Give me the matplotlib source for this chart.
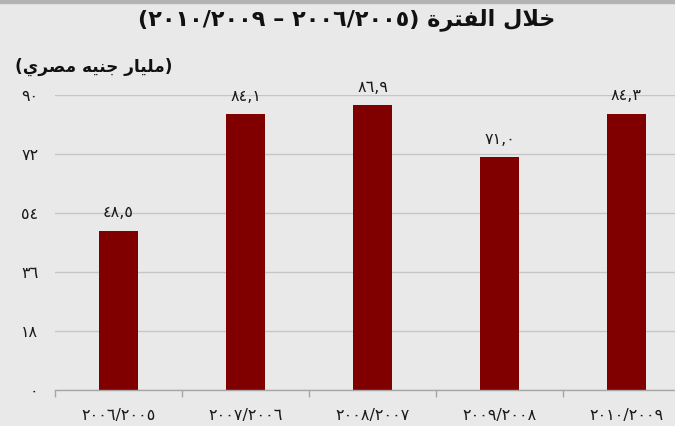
import re
import matplotlib
matplotlib.use("Agg")
import matplotlib.pyplot as plt
from matplotlib.ticker import FixedLocator, FuncFormatter

# data (periods in logical Arabic order)
periods = ["٢٠٠٥/٢٠٠٦", "٢٠٠٦/٢٠٠٧", "٢٠٠٧/٢٠٠٨", "٢٠٠٨/٢٠٠٩", "٢٠٠٩/٢٠١٠"]
values = [48.5, 84.1, 86.9, 71.0, 84.3]
yticks = [0, 18, 36, 54, 72, 90]

title = "خلال الفترة (٢٠٠٥/٢٠٠٦ – ٢٠٠٩/٢٠١٠)"
unit_label = "(مليار جنيه مصري)"

# matplotlib has no arabic shaping, so map letters to presentation forms by hand
FORMS = {
    "ا": (0xFE8D, 0xFE8E),
    "ب": (0xFE8F, 0xFE90, 0xFE91, 0xFE92),
    "ة": (0xFE93, 0xFE94),
    "ت": (0xFE95, 0xFE96, 0xFE97, 0xFE98),
    "ج": (0xFE9D, 0xFE9E, 0xFE9F, 0xFEA0),
    "خ": (0xFEA5, 0xFEA6, 0xFEA7, 0xFEA8),
    "ر": (0xFEAD, 0xFEAE),
    "ص": (0xFEB9, 0xFEBA, 0xFEBB, 0xFEBC),
    "ف": (0xFED1, 0xFED2, 0xFED3, 0xFED4),
    "ل": (0xFEDD, 0xFEDE, 0xFEDF, 0xFEE0),
    "م": (0xFEE1, 0xFEE2, 0xFEE3, 0xFEE4),
    "ن": (0xFEE5, 0xFEE6, 0xFEE7, 0xFEE8),
    "ه": (0xFEE9, 0xFEEA, 0xFEEB, 0xFEEC),
    "ي": (0xFEF1, 0xFEF2, 0xFEF3, 0xFEF4),
    "لا": (0xFEFB, 0xFEFC),
}


def shape_word(w):
    toks = []
    i = 0
    while i < len(w):
        if w[i] == "ل" and i + 1 < len(w) and w[i + 1] == "ا":
            toks.append("لا")
            i += 2
        else:
            toks.append(w[i])
            i += 1
    out = []
    for k, t in enumerate(toks):
        f = FORMS[t]
        prev = k > 0 and len(FORMS[toks[k - 1]]) == 4
        nxt = k < len(toks) - 1 and len(f) == 4
        if prev and nxt:
            c = f[3]
        elif prev:
            c = f[1]
        elif nxt:
            c = f[2]
        else:
            c = f[0]
        out.append(chr(c))
    return "".join(out)


def rtl(text):
    # reverse to visual order, keep digit runs left-to-right
    tokens = re.findall(r"[\u0621-\u064A]+|[\u0660-\u0669,]+|.", text)
    mirror = {"(": ")", ")": "("}
    vis = []
    for t in reversed(tokens):
        if re.match(r"[\u0621-\u064A]", t):
            vis.append(shape_word(t)[::-1])
        else:
            vis.append(mirror.get(t, t))
    return "".join(vis)


def ar_digits(s):
    return s.translate(str.maketrans("0123456789.", "٠١٢٣٤٥٦٧٨٩,"))


bg = "#e9e9e9"
bar_color = "#800000"
grid_color = "#c6c6c6"
text_color = "#1a1a1a"

fig = plt.figure(figsize=(6.75, 4.26), dpi=100, facecolor=bg)
fig.patches.append(plt.Rectangle((0, 1 - 3 / 426), 1, 3 / 426, transform=fig.transFigure,
                                 color="#b3b3b3", zorder=0))

ax = fig.add_axes([55 / 675, 36 / 426, 635 / 675, 295 / 426])
ax.set_facecolor(bg)

x = list(range(len(values)))
ax.bar(x, values, width=0.31, color=bar_color, zorder=3)

for xi, v in zip(x, values):
    ax.annotate(ar_digits(f"{v:.1f}"), (xi, v), xytext=(0, 13), textcoords="offset points",
                ha="center", va="center", fontsize=11.5, color=text_color)

ax.set_xlim(-0.5, len(values) - 0.5)
ax.set_ylim(0, 90)

ax.set_xticks(x)
ax.set_xticklabels([rtl(p) for p in periods], fontsize=11.5, color=text_color)
ax.tick_params(axis="x", which="major", length=0, pad=13)
ax.xaxis.set_minor_locator(FixedLocator([i - 0.5 for i in range(len(values) + 1)]))
ax.tick_params(axis="x", which="minor", length=5, width=1, color="#a6a6a6", direction="out")

ax.yaxis.set_major_locator(FixedLocator(yticks))
ax.yaxis.set_major_formatter(FuncFormatter(lambda v, p: ar_digits(str(int(v)))))
ax.tick_params(axis="y", length=0, pad=12, labelsize=11.5, labelcolor=text_color)
ax.grid(axis="y", color=grid_color, linewidth=1, zorder=0)

for side in ["top", "right", "left"]:
    ax.spines[side].set_visible(False)
ax.spines["bottom"].set_color("#a6a6a6")
ax.spines["bottom"].set_linewidth(1)
ax.spines["bottom"].set_zorder(4)

fig.text(347 / 675, 1 - 20 / 426, rtl(title), ha="center", va="center",
         fontsize=16, fontweight="bold", color="#111111")
fig.text(15 / 675, 1 - 67 / 426, rtl(unit_label), ha="left", va="center",
         fontsize=12.2, fontweight="bold", color="#111111")

fig.savefig("out.png", dpi=100, facecolor=bg)
